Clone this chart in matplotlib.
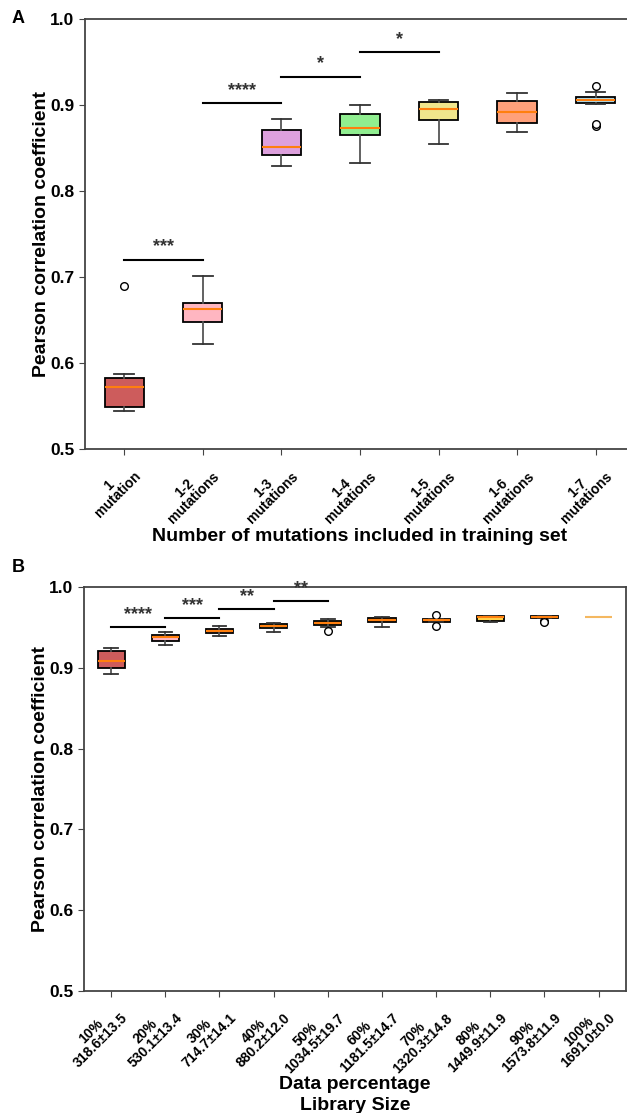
import matplotlib.pyplot as plt

plt.rcParams['font.family'] = ['Liberation Sans', 'DejaVu Sans']
plt.rcParams['font.weight'] = 'bold'
plt.rcParams['axes.labelweight'] = 'bold'

# panel A: training set composition
labelsA = ["1\nmutation", "1-2\nmutations", "1-3\nmutations", "1-4\nmutations",
           "1-5\nmutations", "1-6\nmutations", "1-7\nmutations"]
whisLoA = [0.5445, 0.622, 0.829, 0.833, 0.855, 0.869, 0.901]
q1A = [0.549, 0.648, 0.842, 0.865, 0.882, 0.879, 0.902]
medA = [0.572, 0.663, 0.851, 0.8735, 0.895, 0.892, 0.906]
q3A = [0.582, 0.670, 0.871, 0.890, 0.9035, 0.905, 0.9097]
whisHiA = [0.587, 0.7015, 0.8835, 0.900, 0.906, 0.914, 0.9155]
fliersA = [[0.690], [], [], [], [], [], [0.922, 0.876, 0.878]]
colorsA = ["#CD5C5C", "#FFB6C1", "#DDA0DD", "#90EE90", "#F0E68C", "#FFA07A", "#ADD8E6"]
sigA = [(1, 2, 0.720, "***"), (2, 3, 0.902, "****"), (3, 4, 0.933, "*"), (4, 5, 0.9615, "*")]

# panel B: data percentage / library size
labelsB = ["10%\n318.6±13.5", "20%\n530.1±13.4", "30%\n714.7±14.1", "40%\n880.2±12.0",
           "50%\n1034.5±19.7", "60%\n1181.5±14.7", "70%\n1320.3±14.8", "80%\n1449.9±11.9",
           "90%\n1573.8±11.9", "100%\n1691.0±0.0"]
whisLoB = [0.892, 0.928, 0.939, 0.9447, 0.951, 0.951, 0.957, 0.957, 0.962, 0.9633]
q1B = [0.900, 0.9335, 0.943, 0.9497, 0.953, 0.9563, 0.957, 0.958, 0.962, 0.9633]
medB = [0.9088, 0.9377, 0.946, 0.952, 0.956, 0.9588, 0.9588, 0.9625, 0.963, 0.9633]
q3B = [0.9208, 0.940, 0.948, 0.954, 0.958, 0.9613, 0.9604, 0.9645, 0.964, 0.9633]
whisHiB = [0.924, 0.9447, 0.9517, 0.9558, 0.961, 0.9633, 0.9604, 0.9645, 0.964, 0.9633]
fliersB = [[], [], [], [], [0.9455], [], [0.965, 0.952], [], [0.958, 0.957], []]
colorsB = ["#CD5C5C", "#FFB6C1", "#F4A49A", "#B8E07A", "#C8961E", "#F08A24",
           "#D2691E", "#FFD24A", "#A0522D", "#F4B860"]
sigB = [(1, 2, 0.950, "****"), (2, 3, 0.9615, "***"), (3, 4, 0.9725, "**"), (4, 5, 0.9827, "**")]


def draw(ax, labels, lo, q1, med, q3, hi, fliers, colors, sig, tickfs):
    stats = []
    for i in range(len(labels)):
        stats.append({"whislo": lo[i], "q1": q1[i], "med": med[i], "q3": q3[i],
                      "whishi": hi[i], "fliers": fliers[i]})
    pos = list(range(1, len(labels) + 1))
    bp = ax.bxp(stats, positions=pos, widths=0.5, patch_artist=True,
                boxprops=dict(edgecolor="black", linewidth=1.3),
                whiskerprops=dict(color="#555555", linewidth=1.3),
                capprops=dict(color="#333333", linewidth=1.3),
                medianprops=dict(color="#FF7F0E", linewidth=1.5),
                flierprops=dict(marker="o", markerfacecolor="white",
                                markeredgecolor="black", markersize=5.5))
    for patch, c in zip(bp["boxes"], colors):
        patch.set_facecolor(c)
    for x1, x2, y, s in sig:
        ax.plot([x1, x2], [y, y], color="black", linewidth=1.5)
        ax.text((x1 + x2) / 2, y + 0.005, s, ha="center", va="bottom",
                fontsize=13, color="#333333")
    ax.set_xlim(0.5, len(labels) + 0.5)
    ax.set_ylim(0.5, 1.0)
    ax.set_yticks([0.5, 0.6, 0.7, 0.8, 0.9, 1.0])
    ax.set_yticklabels(["0.5", "0.6", "0.7", "0.8", "0.9", "1.0"], fontsize=12.5)
    ax.set_xticks(pos)
    ax.set_xticklabels(labels, rotation=45, ha="right", rotation_mode="anchor",
                       fontsize=tickfs, multialignment="center", linespacing=0.95)
    ax.set_ylabel("Pearson correlation coefficient", fontsize=14, labelpad=0)
    for sp in ax.spines.values():
        sp.set_color("#444444")
        sp.set_linewidth(1.3)
    ax.tick_params(colors="#444444", labelcolor="black", length=4)
    return bp


fig = plt.figure(figsize=(6.27, 11.13), dpi=100)
axA = fig.add_axes([0.1356, 0.5966, 0.877, 0.3864])
draw(axA, labelsA, whisLoA, q1A, medA, q3A, whisHiA, fliersA, colorsA, sigA, 10)
axA.set_xlabel("Number of mutations included in training set", fontsize=14, labelpad=2)

axB = fig.add_axes([0.134, 0.1096, 0.864, 0.363])
bpB = draw(axB, labelsB, whisLoB, q1B, medB, q3B, whisHiB, fliersB, colorsB, sigB, 10)
bpB["medians"][-1].set_color("#F4B860")
axB.set_xlabel("Data percentage\nLibrary Size", fontsize=14, labelpad=0, linespacing=1.3)

fig.text(0.018, 0.983, "A", fontsize=13, va="center")
fig.text(0.018, 0.49, "B", fontsize=13, va="center")

fig.savefig("out.png", dpi=100)
